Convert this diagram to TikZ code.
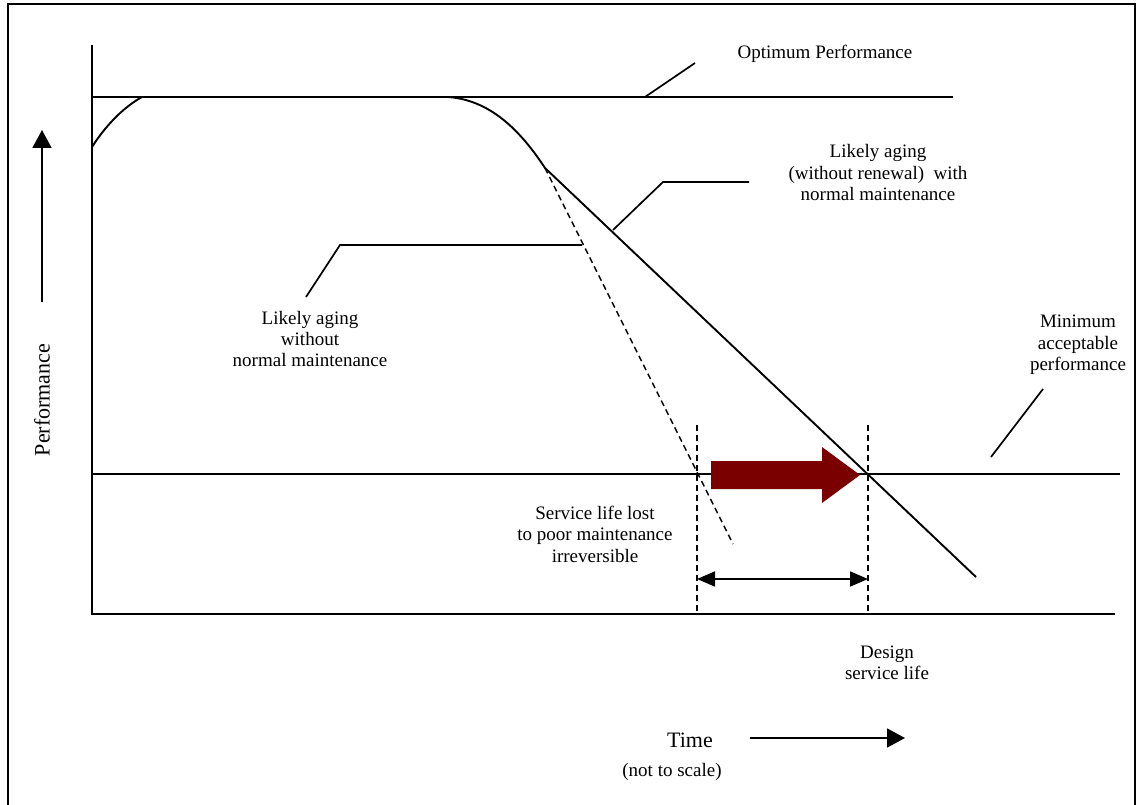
\documentclass[tikz,border=0pt]{standalone}
\usepackage{fontspec}
\setmainfont{Liberation Serif}
\usetikzlibrary{arrows.meta}
\definecolor{arrowred}{HTML}{7A0000}
\tikzset{
  dimtip/.tip={Triangle[length=18pt,width=15pt]},
  axtip/.tip={Triangle[length=18pt,width=19pt]},
}
\begin{document}
\begin{tikzpicture}[x=1pt,y=-1pt,
  curve/.style={line width=1.9pt},
  axisline/.style={line width=1.9pt},
  guide/.style={line width=1.4pt, dash pattern=on 6pt off 4pt},
  leader/.style={line width=1.7pt},
  lbl/.style={align=center, font=\fontsize{19}{21.5}\selectfont, inner sep=0pt},
  biglbl/.style={font=\fontsize{22}{26}\selectfont, inner sep=0pt},
  tipline/.style={-{axtip}, line width=1.7pt},
]
\useasboundingbox (0,0) rectangle (1138,805);

% frame
\draw[line width=2pt] (8,805) -- (8,4) -- (1135,4) -- (1135,805);

% key points of the chart
\coordinate (origin) at (92,614);
\coordinate (ytop) at (92,45);
\coordinate (xend) at (1115,614);
\coordinate (optL) at (92,97);
\coordinate (optR) at (953,97);
\coordinate (minL) at (92,474);
\coordinate (minR) at (1120,474);
\coordinate (start) at (92,147);
\coordinate (reach) at (142,97);
\coordinate (fall) at (448,97);
\coordinate (knee) at (545,168);
\coordinate (endN) at (976,577);
\coordinate (endP) at (733,544);

% axes and reference levels
\draw[axisline] (ytop) -- (origin) -- (xend);
\draw[axisline] (optL) -- (optR);
\draw[axisline] (minL) -- (minR);

% performance curves
\draw[curve] (start) .. controls (104,128) and (122,108) .. (reach);
\draw[curve] (fall) .. controls (490,100) and (520,130) .. (knee) -- (endN);
\draw[guide] (knee) -- (endP);

% service life markers
\draw[guide] (697,425) -- (697,614);
\draw[guide] (868,425) -- (868,614);
\draw[line width=1.7pt, {dimtip}-{dimtip}] (697,579) -- (868,579);

% gained service life arrow
\fill[arrowred] (711,461) -- (822,461) -- (822,447) -- (860,475)
  -- (822,503) -- (822,489) -- (711,489) -- cycle;

% labels
\node[lbl] (opt) at (825,54) {Optimum Performance};
\node[lbl] (agN) at (878,173) {Likely aging\\(without renewal)\ \ with\\normal maintenance};
\node[lbl] (agP) at (310,339) {Likely aging\\without\\normal maintenance};
\node[lbl] (minP) at (1078,345) {Minimum\\acceptable\\performance};
\node[lbl] (lost) at (595,534) {Service life lost\\to poor maintenance\\irreversible};
\node[lbl] (dsl) at (887,663) {Design\\service life};
\node[biglbl] (time) at (690,740) {Time};
\node[lbl] (scale) at (672,772) {(not to scale)};
\node[biglbl, rotate=90] (perf) at (42,400) {Performance};

% leaders
\draw[leader] (645,97) -- (695,63);
\draw[leader] (613,230) -- (663,182) -- (749,182);
\draw[leader] (306,297) -- (340,245) -- (582,245);
\draw[leader] (991,457) -- (1043,389);

% axis direction arrows
\draw[tipline] (42,302) -- (42,130);
\draw[tipline] (750,738) -- (905,738);
\end{tikzpicture}
\end{document}
